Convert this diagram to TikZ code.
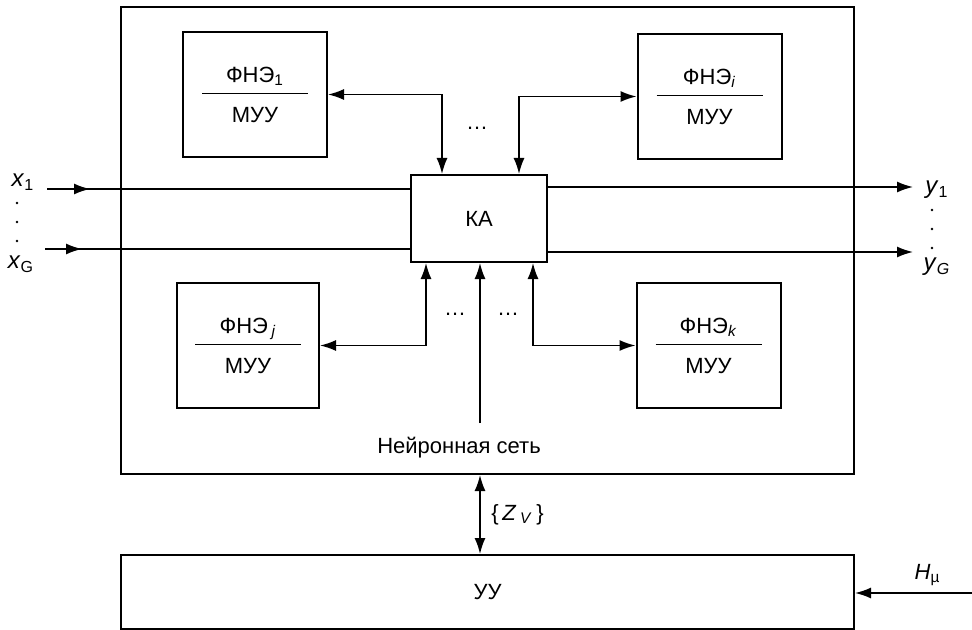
\documentclass[tikz,border=0pt]{standalone}
\usepackage{fontspec}
\setmainfont{Liberation Sans}
\usepackage{tikz}
\usetikzlibrary{arrows.meta,calc}
\newcommand{\fne}[1]{ФНЭ#1\\[-7pt]\rule{53pt}{0.7pt}\\[1pt]МУУ}

\begin{document}
\begin{tikzpicture}[
  x=0.5pt, y=-0.5pt,
  font=\fontsize{11}{13}\selectfont,
  box/.style={draw, line width=1pt, align=center, inner sep=2pt},
  unit/.style={box, minimum width=72pt, minimum height=62.5pt},
  lab/.style={font=\fontsize{12}{14}\selectfont},
  arr/.style={-{Latex[length=8pt,width=5.5pt]}, line width=0.8pt},
  dbl/.style={{Latex[length=8pt,width=5.5pt]}-{Latex[length=8pt,width=5.5pt]}, line width=0.8pt},
  ln/.style={line width=0.8pt}
]
\useasboundingbox (0,0) rectangle (972,630);
\node[box, minimum width=366.5pt, minimum height=233.5pt] (net) at (487.5,240.5) {};
\node[box, minimum width=366.5pt, minimum height=37pt] (uu) at (487.5,592) {УУ};
\node[unit] (fne1) at (255,94.5) {\fne{\textsubscript{1}}};
\node[unit] (fnei) at (709.5,96.5) {\fne{\textsubscript{\textit{i}}}};
\node[unit, minimum width=71pt] (fnej) at (248,345.5) {\fne{\,\textsubscript{\textit{j}}}};
\node[unit] (fnek) at (708.5,345.5) {\fne{\textsubscript{\textit{k}}}};
\node[box, minimum width=68pt, minimum height=43.5pt] (ka) at (479,218.5) {КА};
\node (nn) at (459,448) {Нейронная сеть};
\coordinate (nnin) at (480,423);
\node (dotst) at (477,128) {\dots};
\node (dotsl) at (455,314) {\dots};
\node (dotsr) at (508,314) {\dots};
% unit links
\draw[dbl] (fne1.east) -| ([xshift=-18.5pt]ka.north);
\draw[dbl] (fnei.west) -| ([xshift=20pt]ka.north);
\draw[dbl] (fnej.east) -| ([xshift=-26.5pt]ka.south);
\draw[dbl] (fnek.west) -| ([xshift=27pt]ka.south);
\draw[arr] (nnin) -- (nnin |- ka.south);
% inputs and outputs
\coordinate (in1) at (47,189); \coordinate (inG) at (45,249);
\coordinate (out1) at (913,187); \coordinate (outG) at (913,252);
\draw[ln] (in1) -- (ka.west |- in1); \draw[arr] (in1) -- ++(43,0);
\draw[ln] (inG) -- (ka.west |- inG); \draw[arr] (inG) -- ++(37,0);
\draw[arr] (ka.east |- out1) -- (out1); \draw[arr] (ka.east |- outG) -- (outG);
\node[lab] (lx1) at (23,182) {\textit{x}\textsubscript{1}};
\node[lab] (lxG) at (21,264) {\textit{x}\textsubscript{G}};
\node[lab] (ly1) at (937,190) {\textit{y}\textsubscript{1}};
\node[lab] (lyG) at (937,267) {\textit{y}\textsubscript{\textit{G}}};
\foreach \y in {203,222,241} \fill (17,\y) circle (0.7pt);
\foreach \y in {210,229,248} \fill (932,\y) circle (0.7pt);
% control unit
\draw[dbl] ($(net.south)+(-7.5,0)$) -- node[right, xshift=2pt]{\{\,\textit{Z}\,\textsubscript{\textit{V}}\,\}} ($(uu.north)+(-7.5,0)$);
\coordinate (hin) at (972,593);
\draw[arr] (hin) -- node[above, pos=0.38]{\textit{H}\textsubscript{µ}} (uu.east |- hin);
\end{tikzpicture}
\end{document}
